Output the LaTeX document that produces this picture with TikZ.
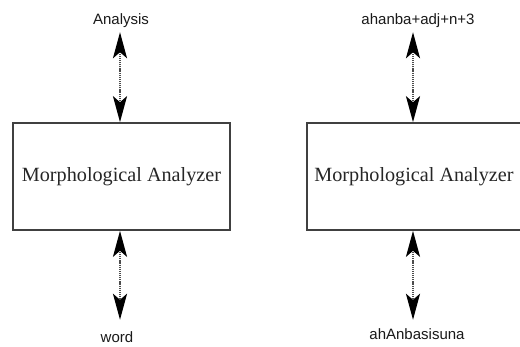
\documentclass[tikz,border=0pt]{standalone}
\usepackage{fontspec}
\setmainfont{Liberation Serif}
\setsansfont{Liberation Sans}
\usetikzlibrary{arrows.meta}
\begin{document}
\begin{tikzpicture}[x=1pt,y=-1pt,
  box/.style={draw=black!75, line width=1.6pt, minimum width=217pt, minimum height=107pt, inner sep=0pt,
    font=\fontsize{20.2}{22}\selectfont, text=black!85},
  lbl/.style={font=\sffamily\fontsize{15}{17}\selectfont, text=black!90, inner sep=0pt, anchor=base,
    text height=11pt, text depth=3pt},
  link/.style={draw=black!70, line width=2.4pt, dash pattern=on 1.2pt off 0.9pt,
    {Stealth[length=26pt,width=14pt,inset=6pt,black]}-{Stealth[length=26pt,width=14pt,inset=6pt,black]}}]
\useasboundingbox (0,0) rectangle (520,347);
\clip (0,0) rectangle (520,347);
\node[box] (m1) at (121.5,176.5) {Morphological Analyzer};
\node[box] (m2) at (415.5,176.5) {\hspace*{-3pt}Morphological Analyzer};
\node[lbl] (a1) at (121,25) {Analysis};
\node[lbl] (w1) at (117,343) {word};
\node[lbl] (a2) at (418,25) {ahanba+adj+n+3};
\node[lbl] (w2) at (417,340) {ahAnbasisuna};
\draw[link, shorten >=4pt] ([xshift=-1.5pt]m1.north) -- ([xshift=-1.5pt]m1.north |- a1.south);
\draw[link, shorten >=12pt] ([xshift=-1.5pt]m1.south) -- ([xshift=-1.5pt]m1.south |- w1.north);
\draw[link, shorten >=4pt] ([xshift=-2.5pt]m2.north) -- ([xshift=-2.5pt]m2.north |- a2.south);
\draw[link, shorten >=9pt] ([xshift=-2.5pt]m2.south) -- ([xshift=-2.5pt]m2.south |- w2.north);
\end{tikzpicture}
\end{document}
